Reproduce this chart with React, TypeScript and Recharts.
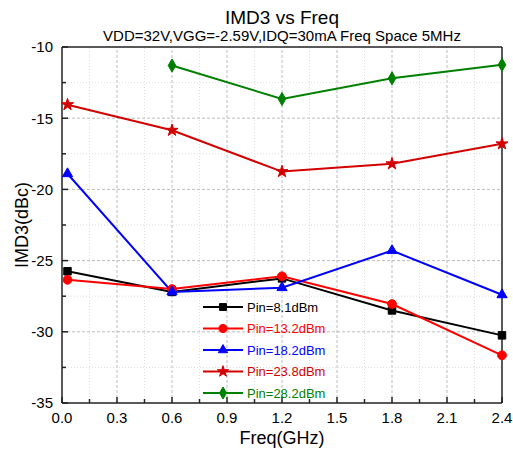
import React from "react";
import { LineChart, Line, XAxis, YAxis, ReferenceLine, Legend, Symbols } from "recharts";

const freqs = [0.03, 0.6, 1.2, 1.8, 2.4];
const pin81 = [-25.75, -27.2, -26.25, -28.5, -30.25];
const pin132 = [-26.35, -27.0, -26.1, -28.05, -31.65];
const pin182 = [-18.9, -27.2, -26.9, -24.3, -27.4];
const pin238 = [-14.05, -15.85, -18.75, -18.2, -16.8];
const pin282 = [null, -11.3, -13.65, -12.2, -11.25];

const xTicks = [0, 0.15, 0.3, 0.45, 0.6, 0.75, 0.9, 1.05, 1.2, 1.35, 1.5, 1.65, 1.8, 1.95, 2.1, 2.25, 2.4];
const xMajor = [0, 0.3, 0.6, 0.9, 1.2, 1.5, 1.8, 2.1, 2.4];
const yTicks = [-35, -32.5, -30, -27.5, -25, -22.5, -20, -17.5, -15, -12.5, -10];
const yMajor = [-35, -30, -25, -20, -15, -10];

const series = [
  { key: "p81", name: "Pin=8.1dBm", color: "#000000", shape: "square", size: 56 },
  { key: "p132", name: "Pin=13.2dBm", color: "#ff0000", shape: "circle", size: 60 },
  { key: "p182", name: "Pin=18.2dBm", color: "#0000ff", shape: "triangle", size: 45 },
  { key: "p238", name: "Pin=23.8dBm", color: "#d40000", shape: "star", size: 45 },
  { key: "p282", name: "Pin=28.2dBm", color: "#008000", shape: "diamond", size: 50 },
];

const data = freqs.map((f, i) => ({
  freq: f,
  p81: pin81[i],
  p132: pin132[i],
  p182: pin182[i],
  p238: pin238[i],
  p282: pin282[i],
}));

const FONT = "'Liberation Sans', Arial, sans-serif";
const AXIS = "#222222";

const YTick = (props: any) => {
  const { x, y, payload } = props;
  const major = yMajor.includes(payload.value);
  return (
    <g>
      <line x1={x} x2={x + (major ? 6 : 4)} y1={y} y2={y} stroke={AXIS} strokeWidth={1.5} />
      {major && (
        <text x={x - 9} y={y} dy="0.36em" textAnchor="end" fontSize={15} fontFamily={FONT} fill="#000">
          {payload.value}
        </text>
      )}
    </g>
  );
};

const XTick = (props: any) => {
  const { x, y, payload } = props;
  const major = xMajor.includes(payload.value);
  return (
    <g>
      <line x1={x} x2={x} y1={y} y2={y - (major ? 6 : 4)} stroke={AXIS} strokeWidth={1.5} />
      {major && (
        <text x={x} y={y + 20} textAnchor="middle" fontSize={15} fontFamily={FONT} fill="#000">
          {payload.value.toFixed(1)}
        </text>
      )}
    </g>
  );
};

const renderLegend = () => (
  <svg width={175} height={110}>
    {series.map((s, i) => {
      const cy = 11 + i * 21.5;
      return (
        <g key={s.key}>
          <line x1={3} x2={43} y1={cy} y2={cy} stroke={s.color} strokeWidth={2} />
          <Symbols cx={23} cy={cy} type={s.shape as any} size={s.size * 0.85} fill={s.color} stroke={s.color} />
          <text x={47} y={cy} dy="0.36em" fontSize={13} fontFamily={FONT} fill={s.color}>
            {s.name}
          </text>
        </g>
      );
    })}
  </svg>
);

export default function App() {
  return (
    <div style={{ position: "absolute", left: 0, top: 0, width: 513, height: 450, background: "#fff" }}>
      <LineChart width={513} height={450} data={data} margin={{ top: 47, right: 11, bottom: 0, left: 0 }}>
        <XAxis
          dataKey="freq"
          type="number"
          domain={[0, 2.4]}
          ticks={xTicks}
          interval={0}
          tickSize={0}
          tickMargin={0}
          tickLine={false}
          tick={<XTick />}
          height={47}
          axisLine={{ stroke: AXIS, strokeWidth: 1.5 }}
          label={{ value: "Freq(GHz)", position: "insideBottom", offset: 6, fontSize: 18, fill: "#000", fontFamily: FONT }}
        />
        <YAxis
          type="number"
          domain={[-35, -10]}
          ticks={yTicks}
          interval={0}
          tickSize={0}
          tickMargin={0}
          tickLine={false}
          tick={<YTick />}
          width={62}
          axisLine={{ stroke: AXIS, strokeWidth: 1.5 }}
        />
        {xTicks.slice(1, -1).map((v) => (
          <ReferenceLine
            key={"gx" + v}
            x={v}
            stroke={xMajor.includes(v) ? "#bdbdbd" : "#dddddd"}
            strokeDasharray={xMajor.includes(v) ? "3 2" : "1 2"}
          />
        ))}
        {yTicks.slice(1, -1).map((v) => (
          <ReferenceLine
            key={"gy" + v}
            y={v}
            stroke={yMajor.includes(v) ? "#bdbdbd" : "#dddddd"}
            strokeDasharray={yMajor.includes(v) ? "3 2" : "1 2"}
          />
        ))}
        <ReferenceLine y={-10} stroke={AXIS} strokeWidth={1.5} />
        <ReferenceLine x={2.4} stroke={AXIS} strokeWidth={1.5} />
        {series.map((s) => (
          <Line
            key={s.key}
            dataKey={s.key}
            name={s.name}
            stroke={s.color}
            strokeWidth={2}
            isAnimationActive={false}
            dot={(p: any) =>
              p.value == null || p.cy == null ? (
                <g key={s.key + p.index} />
              ) : (
                <Symbols
                  key={s.key + p.index}
                  cx={p.cx}
                  cy={p.cy}
                  type={s.shape as any}
                  size={s.size}
                  fill={s.color}
                  stroke={s.color}
                />
              )
            }
            activeDot={false}
          />
        ))}
        <Legend
          layout="vertical"
          align="center"
          verticalAlign="middle"
          content={renderLegend}
          wrapperStyle={{ left: 200, top: 296, width: 175, height: 110 }}
        />
      </LineChart>
      <svg
        width={513}
        height={450}
        style={{ position: "absolute", left: 0, top: 0, pointerEvents: "none" }}
      >
        <text x={282} y={24} textAnchor="middle" fontSize={19} fontFamily={FONT} fill="#000">
          IMD3 vs Freq
        </text>
        <text x={282} y={41} textAnchor="middle" fontSize={15} fontFamily={FONT} fill="#000">
          VDD=32V,VGG=-2.59V,IDQ=30mA Freq Space 5MHz
        </text>
        <text
          x={22}
          y={225}
          dy="0.36em"
          textAnchor="middle"
          fontSize={18}
          fontFamily={FONT}
          fill="#000"
          transform="rotate(-90, 22, 225)"
        >
          IMD3(dBc)
        </text>
      </svg>
    </div>
  );
}
